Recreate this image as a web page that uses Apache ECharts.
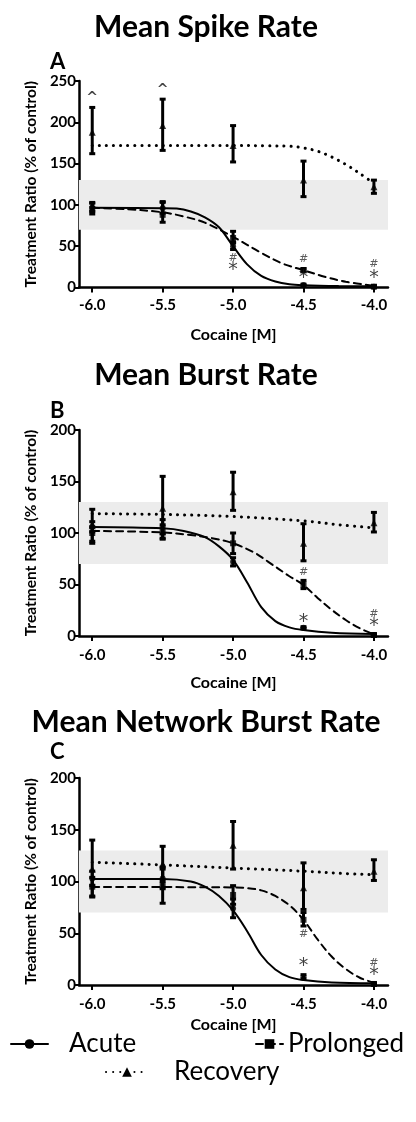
<!DOCTYPE html>
<html>
<head>
<meta charset="utf-8">
<script src="https://cdn.jsdelivr.net/npm/echarts@6/dist/echarts.min.js"></script>
<style>
html,body{margin:0;padding:0;background:#fff;}
#chart{width:416px;height:1122px;}
</style>
</head>
<body>
<div id="chart"></div>
<script>
// ---------- DATA ----------
const doses = [-6, -5.5, -5, -4.5, -4];
const xTickValues = [-6, -5.5, -5, -4.5, -4];
const seriesNames = ['Acute', 'Prolonged', 'Recovery'];
const panelTitles = ['Mean Spike Rate', 'Mean Burst Rate', 'Mean Network Burst Rate'];
const panelLetters = ['A', 'B', 'C'];
const yMaxes = [250, 200, 200];
const controlBand = [70, 130];

// Panel A – Mean Spike Rate
const acuteA = [97, 96, 50, 3, 1];
const acuteA_lo = [92, 90, 46, 2, 0];
const acuteA_hi = [102, 103, 55, 4, 2];
const prolA = [95, 88, 60, 21, 1];
const prolA_lo = [89, 79, 54, 19, 0];
const prolA_hi = [103, 104, 68, 23, 2];
const recA = [188, 196, 172, 130, 122];
const recA_lo = [162, 166, 152, 110, 114];
const recA_hi = [218, 228, 196, 153, 130];
const acuteCurveA = [[-6,96.5],[-5.5,96],[-5.4,95.5],[-5.3,92],[-5.2,85],[-5.1,73],[-5.0,50],[-4.9,28],[-4.8,14],[-4.7,7.2],[-4.6,3.9],[-4.5,2.8],[-4.25,1.8],[-4,1.5]];
const prolCurveA = [[-6,96.4],[-5.75,94.8],[-5.5,91],[-5.35,86],[-5.2,78.5],[-5.0,61.3],[-4.8,42],[-4.65,29],[-4.5,21],[-4.35,13],[-4.2,7],[-4,2]];
const recCurveA = [[-6,172],[-5.5,172],[-5,172],[-4.75,171.5],[-4.6,171],[-4.5,169],[-4.4,165],[-4.3,158],[-4.2,149],[-4.1,138],[-4,126]];
const annotA = [[-6,229,'^'],[-5.5,239,'^'],[-5,36,'#'],[-5,21,'*'],[-4.5,34,'#'],[-4.5,12,'*'],[-4,28,'#'],[-4,12,'*']];

// Panel B – Mean Burst Rate
const acuteB = [106, 106, 72, 8, 1];
const acuteB_lo = [101, 99, 68, 7, 0];
const acuteB_hi = [111, 113, 76, 9, 2];
const prolB = [100, 101, 90, 50, 1];
const prolB_lo = [92, 95, 80, 46, 0];
const prolB_hi = [106, 108, 100, 54, 2];
const recB = [107, 124, 140, 90, 110];
const recB_lo = [90, 94, 122, 73, 101];
const recB_hi = [123, 155, 159, 109, 120];
const acuteCurveB = [[-6,105.8],[-5.5,104.5],[-5.35,102],[-5.2,96],[-5.1,87],[-5,74],[-4.9,52],[-4.8,28],[-4.7,14.5],[-4.6,8.4],[-4.5,5.8],[-4.3,3.2],[-4,2]];
const prolCurveB = [[-6,102],[-5.5,100.6],[-5.3,98],[-5.15,95],[-5,90],[-4.85,81],[-4.75,72],[-4.6,58],[-4.5,49.5],[-4.4,37],[-4.3,25.5],[-4.2,15.5],[-4.1,7.5],[-4,1.6]];
const recCurveB = [[-6,118.8],[-5.5,118],[-5,116],[-4.5,111.8],[-4.25,108],[-4,105]];
const annotB = [[-4.5,62,'#'],[-4.5,14,'*'],[-4,21,'#'],[-4,10,'*']];

// Panel C – Mean Network Burst Rate
const acuteC = [103, 103, 74, 8, 1];
const acuteC_lo = [96, 93, 65, 6, 0];
const acuteC_hi = [110, 114, 83, 10, 2];
const prolC = [95, 96, 87, 63, 1];
const prolC_lo = [86, 79, 78, 57, 0];
const prolC_hi = [104, 112, 96, 70, 2];
const recC = [112, 117, 135, 94, 110];
const recC_lo = [85, 100, 112, 73, 101];
const recC_hi = [140, 134, 158, 118, 121];
const acuteCurveC = [[-6,102.4],[-5.5,102.4],[-5.3,100],[-5.2,95],[-5.1,86],[-5,72],[-4.9,52],[-4.8,29],[-4.7,15],[-4.6,7.6],[-4.5,4.8],[-4.3,2.4],[-4,1.6]];
const prolCurveC = [[-6,94.7],[-5.5,94.6],[-5,94.3],[-4.9,93.6],[-4.8,91.4],[-4.7,86],[-4.6,77],[-4.5,63],[-4.4,44],[-4.3,27.5],[-4.2,15.5],[-4.1,7],[-4,2.3]];
const recCurveC = [[-6,118.6],[-5.5,116],[-5,113],[-4.5,110],[-4.25,108],[-4,106.5]];
const annotC = [[-4.5,49,'#'],[-4.5,18,'*'],[-4,21,'#'],[-4,10,'*']];

// ---------- BUILD ----------
const FONT = 'Lato';
const panels = [
  {means:[acuteA,prolA,recA], lo:[acuteA_lo,prolA_lo,recA_lo], hi:[acuteA_hi,prolA_hi,recA_hi], curves:[acuteCurveA,prolCurveA,recCurveA], annot:annotA},
  {means:[acuteB,prolB,recB], lo:[acuteB_lo,prolB_lo,recB_lo], hi:[acuteB_hi,prolB_hi,recB_hi], curves:[acuteCurveB,prolCurveB,recCurveB], annot:annotB},
  {means:[acuteC,prolC,recC], lo:[acuteC_lo,prolC_lo,recC_lo], hi:[acuteC_hi,prolC_hi,recC_hi], curves:[acuteCurveC,prolCurveC,recCurveC], annot:annotC}
];
const gridTops = [81, 430, 778];
const gridHeights = [206.5, 206, 207];
const lineTypes = ['solid', [7, 5], [0.1, 7]];
const lineWidths = [2, 2, 3];
const symbols = ['circle', 'rect', 'triangle'];
const symSizes = [6, 6, 7];

const grids = [], xAxes = [], yAxes = [], series = [];
const axisLabelStyle = {color:'#000', fontFamily:FONT, fontWeight:'bold', fontSize:15};

panels.forEach((p, gi) => {
  grids.push({left:79, right:28, top:gridTops[gi], height:gridHeights[gi]});
  xAxes.push({
    type:'value', gridIndex:gi, min:-6.094, max:-3.9,
    name:'Cocaine [M]', nameLocation:'middle', nameGap: gi === 2 ? 32 : 39,
    nameTextStyle:{color:'#000', fontFamily:FONT, fontWeight:'bold', fontSize:16},
    axisLine:{onZero:false, lineStyle:{color:'#000', width:2.5}},
    axisTick:{show:true, length:5, lineStyle:{color:'#000', width:2}, customValues:xTickValues},
    axisLabel:Object.assign({customValues:xTickValues, margin: gi === 0 ? 10 : 12, formatter:v => v.toFixed(1)}, axisLabelStyle),
    splitLine:{show:false}
  });
  yAxes.push({
    type:'value', gridIndex:gi, min:0, max:yMaxes[gi], interval:50,
    name:'Treatment Ratio (% of control)', nameLocation:'middle', nameGap:38, nameRotate:90,
    nameTextStyle:{color:'#000', fontFamily:FONT, fontWeight:'bold', fontSize:15.5},
    axisLine:{show:true, lineStyle:{color:'#000', width:2.5}},
    axisTick:{show:true, length:4, lineStyle:{color:'#000', width:2}},
    axisLabel:Object.assign({margin:3}, axisLabelStyle),
    splitLine:{show:false}
  });
  // curves
  p.curves.forEach((c, si) => {
    const s = {
      name: seriesNames[si], type:'line', xAxisIndex:gi, yAxisIndex:gi,
      data:c, smooth:0.35, showSymbol:false,
      symbol:symbols[si], symbolSize:symSizes[si]+2,
      itemStyle:{color:'#000'},
      lineStyle:{color:'#000', width:lineWidths[si], type:lineTypes[si], cap:'round'},
      z:3
    };
    if (si === 0) {
      s.markArea = {silent:true, z:1,
        itemStyle:{color:'#ececec', decal:{symbol:'rect', symbolSize:1, dashArrayX:[2, 2], dashArrayY:[2, 1], color:'rgba(150,150,150,0.45)'}},
        data:[[{yAxis:controlBand[0]}, {yAxis:controlBand[1]}]]};
    }
    series.push(s);
  });
  // error bars
  p.means.forEach((m, si) => {
    series.push({
      name: seriesNames[si] + ' SEM', type:'custom', xAxisIndex:gi, yAxisIndex:gi,
      data: doses.map((d, i) => [d, p.lo[si][i], p.hi[si][i]]),
      renderItem: (params, api) => {
        const a = api.coord([api.value(0), api.value(1)]);
        const b = api.coord([api.value(0), api.value(2)]);
        const st = {stroke:'#000', lineWidth:3};
        const cw = 3;
        return {type:'group', children:[
          {type:'line', shape:{x1:a[0], y1:a[1], x2:b[0], y2:b[1]}, style:st},
          {type:'line', shape:{x1:a[0]-cw, y1:a[1], x2:a[0]+cw, y2:a[1]}, style:st},
          {type:'line', shape:{x1:b[0]-cw, y1:b[1], x2:b[0]+cw, y2:b[1]}, style:st}
        ]};
      },
      z:4
    });
    series.push({
      name: seriesNames[si] + ' mean', type:'scatter', xAxisIndex:gi, yAxisIndex:gi,
      data: doses.map((d, i) => [d, m[i]]),
      symbol:symbols[si], symbolSize:symSizes[si], itemStyle:{color:'#000'}, z:5
    });
  });
  // significance annotations
  series.push({
    name:'annot', type:'scatter', xAxisIndex:gi, yAxisIndex:gi, symbolSize:1,
    itemStyle:{color:'rgba(0,0,0,0)'}, z:6,
    data: p.annot.map(a => ({value:[a[0], a[1]],
      label:{show:true, position:'inside', formatter:a[2], color: a[2]==='#' ? '#333' : '#111',
        fontFamily:'DejaVu Sans', fontWeight: a[2]==='^' ? 'bold' : 'normal',
        fontSize: a[2]==='*' ? 19 : (a[2]==='#' ? 11 : 14)}}))
  });
});

const graphics = [];
const titleY = [27, 375, 722];
const letterY = [62, 411, 752];
panelTitles.forEach((t, i) => {
  graphics.push({type:'text', x:206, y:titleY[i], style:{text:t, fill:'#000', font:'bold 30px ' + FONT, textAlign:'center', textVerticalAlign:'middle'}});
  graphics.push({type:'text', x:50, y:letterY[i], style:{text:panelLetters[i], fill:'#000', font:'bold 22px ' + FONT, textAlign:'left', textVerticalAlign:'middle'}});
});

const legendText = {color:'#000', fontFamily:FONT, fontSize:26};
const option = {
  animation:false,
  backgroundColor:'#fff',
  aria:{enabled:false},
  grid:grids, xAxis:xAxes, yAxis:yAxes, series:series,
  graphic:graphics,
  legend:[
    {data:['Acute'], left:10, top:1031, padding:0, itemWidth:37, itemHeight:12, textStyle:Object.assign({padding:[0,0,0,16]}, legendText), selectedMode:false},
    {data:['Prolonged'], left:255, top:1031, padding:0, itemWidth:27, itemHeight:12, textStyle:Object.assign({padding:[0,0,0,0]}, legendText), selectedMode:false},
    {data:['Recovery'], left:105, top:1059, padding:0, itemWidth:42, itemHeight:12, textStyle:Object.assign({padding:[0,0,0,21]}, legendText), selectedMode:false}
  ]
};
const chart = echarts.init(document.getElementById('chart'), null, {renderer:'canvas'});
chart.setOption(option);
</script>
</body>
</html>
